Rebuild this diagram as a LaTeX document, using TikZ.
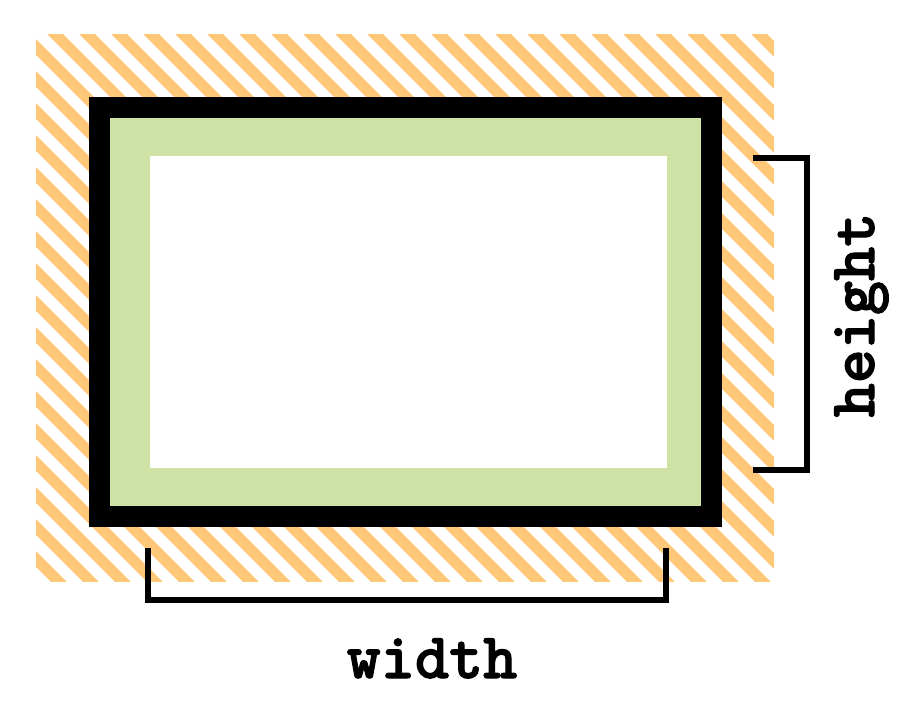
\documentclass[tikz,border=0pt]{standalone}
\usepackage{fontspec}
\newfontfamily\dimfont[FakeBold=1.6]{lmmonolt10-bold.otf}
\usepackage{tikz}
\usetikzlibrary{positioning}
\definecolor{marginorange}{HTML}{FFC878}
\definecolor{paddinggreen}{HTML}{CEE2A5}

\begin{document}
\begin{tikzpicture}[
    x=1pt, y=-1pt,
    % Define styles for the box layers and the labels
    hatch/.style={draw=marginorange, line width=11.3pt},
    borderline/.style={draw=black, line width=21pt},
    bracket/.style={draw=black, line width=6.5pt},
    dimlabel/.style={font=\fontsize{65}{65}\selectfont\dimfont, inner sep=0pt}
]
    \useasboundingbox (0,0) rectangle (916,712);

    % Margin: hatched area
    \begin{scope}
        \clip (36,34) rectangle (774,581);
        \foreach \k in {-18,...,23}
            \draw[hatch] ({35+32*\k},14) -- ({622+32*\k},601);
    \end{scope}

    % Padding and content
    \fill[paddinggreen] (110,118) rectangle (701,506);
    \fill[white] (150,156) rectangle (667,468);

    % Border
    \draw[borderline] (99.5,107.5) rectangle (711.5,516.5);

    % Define the labels
    \node[dimlabel, anchor=base] (widthlabel) at (432,678) {width};
    \node[dimlabel, anchor=base, rotate=90] (heightlabel) at (874,315) {height};

    % Draw the brackets
    \draw[bracket] (148,548) |- (666,600) -- (666,548);
    \draw[bracket] (753,158) -| (807,470) -- (753,470);
\end{tikzpicture}
\end{document}
